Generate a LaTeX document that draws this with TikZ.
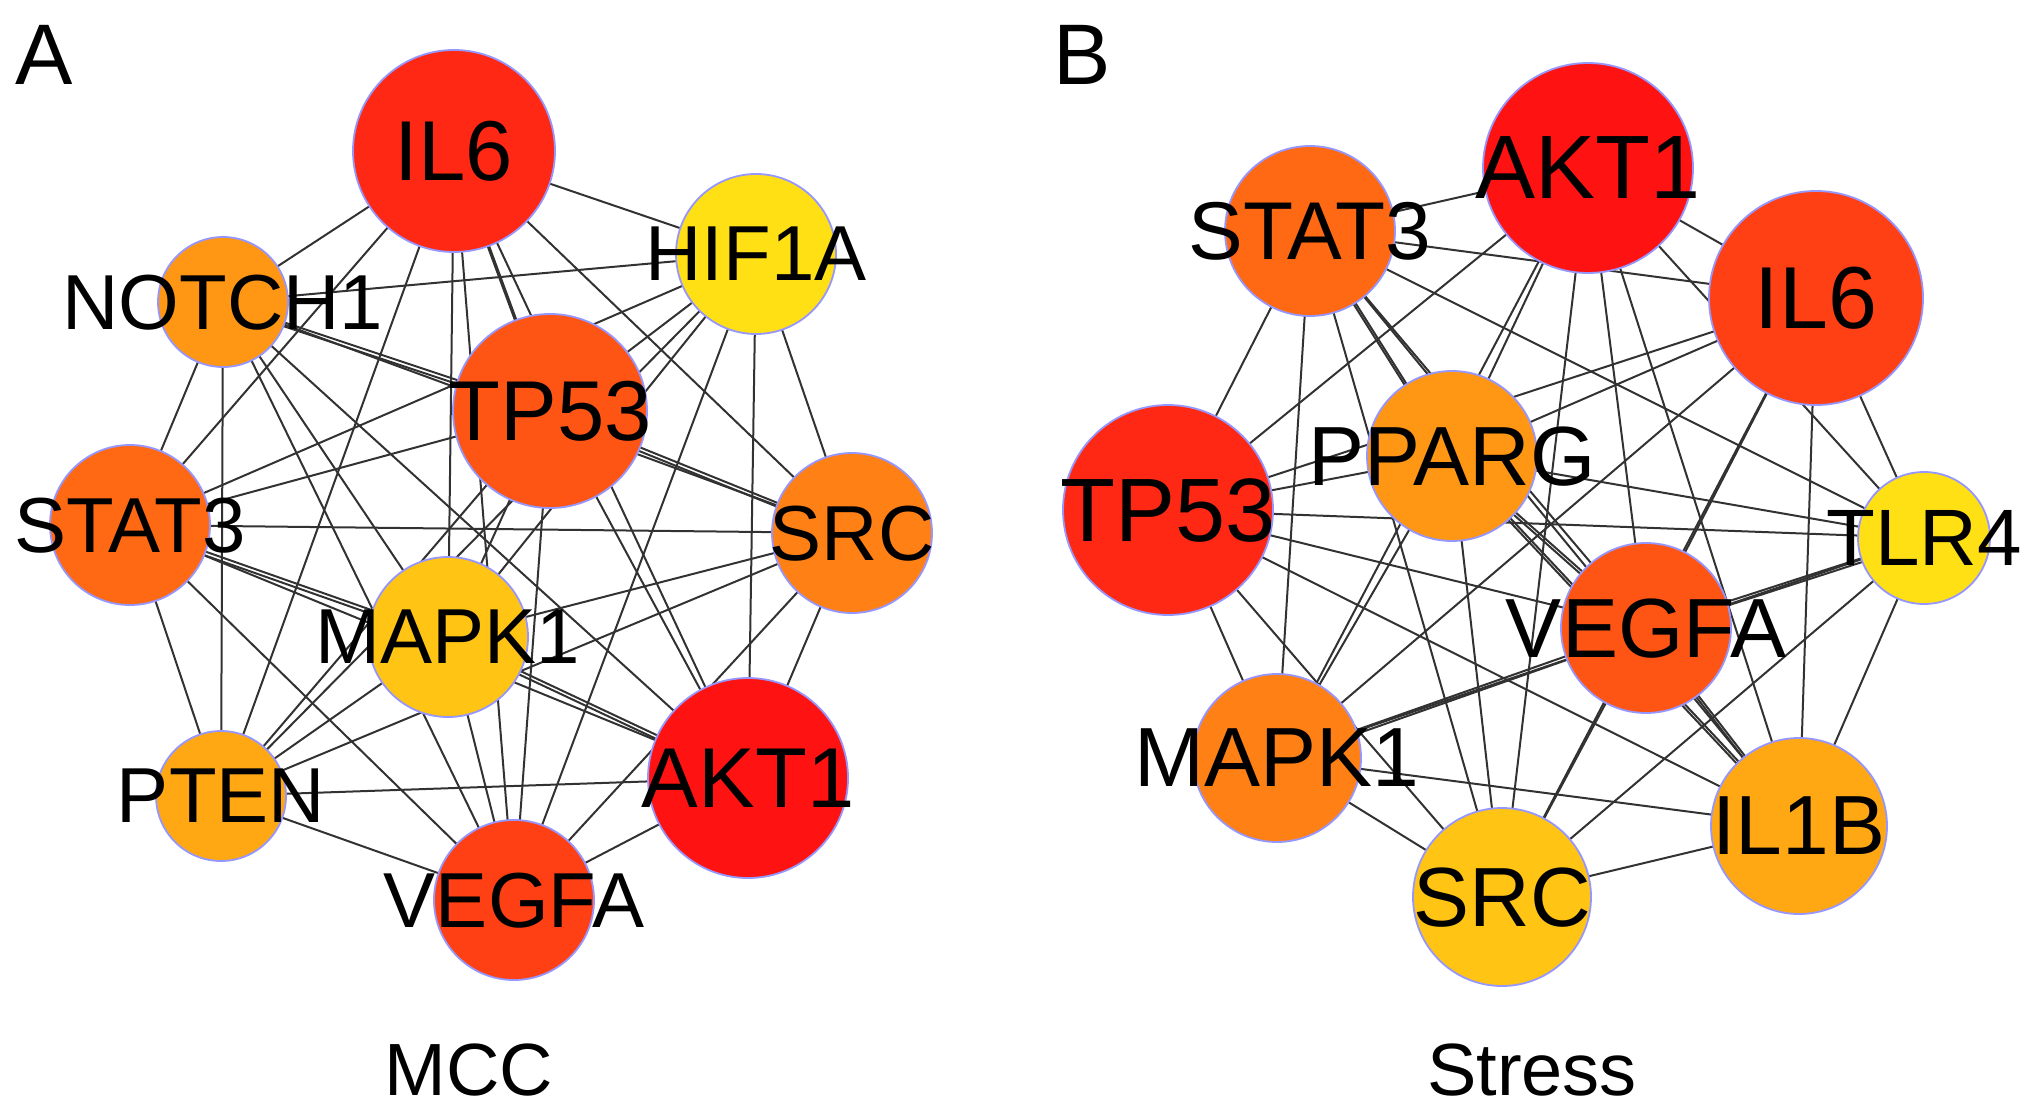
\documentclass[tikz,border=0pt]{standalone}
\usepackage{fontspec}
\setmainfont{Liberation Sans}
\usetikzlibrary{backgrounds}
\definecolor{cA}{RGB}{255,18,18}
\definecolor{cB}{RGB}{255,40,20}
\definecolor{cC}{RGB}{255,64,20}
\definecolor{cD}{RGB}{255,85,20}
\definecolor{cE}{RGB}{255,105,20}
\definecolor{cF}{RGB}{255,128,20}
\definecolor{cG}{RGB}{255,150,20}
\definecolor{cH}{RGB}{255,168,20}
\definecolor{cI}{RGB}{255,196,20}
\definecolor{cJ}{RGB}{255,224,20}
\definecolor{rim}{RGB}{150,150,255}
\definecolor{edgec}{RGB}{50,50,50}
\tikzset{
  gene/.style args={#1/#2/#3}{circle, draw=rim, line width=1.8pt, fill=#1,
     minimum size=#2pt, inner sep=0pt,
     label={[font=\fontsize{#3}{#3}\selectfont, text depth=0pt, inner sep=0pt]center:\genelabel}},
  edge/.style={draw=edgec, line width=2pt},
  ttl/.style={font=\fontsize{74}{74}\selectfont, inner sep=0pt},
  panel/.style={font=\fontsize{86}{86}\selectfont, inner sep=0pt}
}
\newcommand{\genelabel}{}
\newcommand{\gnode}[6]{\def\genelabel{#6}\node[gene={#3/#4/#5}] (#1) at #2 {};}
\begin{document}
\begin{tikzpicture}[x=1pt,y=-1pt]
\useasboundingbox (0,0) rectangle (2031,1107);
% Panel A
\gnode{aIL6}{(454,151)}{cB}{202}{85}{IL6}
\gnode{aHIF}{(756,254)}{cJ}{160}{78}{HIF1A}
\gnode{aNOT}{(223,302)}{cG}{130}{78}{NOTCH1}
\gnode{aTP}{(550,411)}{cD}{194}{85}{TP53}
\gnode{aST}{(130,525)}{cE}{160}{78}{STAT3}
\gnode{aSRC}{(852,533)}{cF}{160}{78}{SRC}
\gnode{aMAP}{(448,637)}{cI}{160}{78}{MAPK1}
\gnode{aPT}{(221,796)}{cH}{130}{78}{PTEN}
\gnode{aAKT}{(748,778)}{cA}{200}{85}{AKT1}
\gnode{aVEG}{(514,900)}{cC}{160}{78}{VEGFA}
% Panel B
\gnode{bAKT}{(1588,168)}{cA}{210}{90}{AKT1}
\gnode{bST}{(1310,231)}{cE}{170}{82}{STAT3}
\gnode{bIL6}{(1816,298)}{cC}{214}{88}{IL6}
\gnode{bPP}{(1452,456)}{cG}{170}{84}{PPARG}
\gnode{bTP}{(1168,510)}{cB}{210}{90}{TP53}
\gnode{bTLR}{(1924,538)}{cJ}{132}{80}{TLR4}
\gnode{bVEG}{(1646,628)}{cD}{170}{84}{VEGFA}
\gnode{bMAP}{(1277,758)}{cF}{168}{84}{MAPK1}
\gnode{bIL1}{(1799,826)}{cH}{176}{84}{IL1B}
\gnode{bSRC}{(1502,897)}{cI}{178}{84}{SRC}
% titles
\node[panel] (la) at (44,55) {A};
\node[panel] (lb) at (1082,55) {B};
\node[ttl] (mcc) at (469,1070) {MCC};
\node[ttl] (str) at (1532,1070) {Stress};
\begin{pgfonlayer}{background}
\foreach \i [count=\n] in {aIL6,aHIF,aNOT,aTP,aST,aSRC,aMAP,aPT,aAKT,aVEG}{
  \foreach \j [count=\m] in {aIL6,aHIF,aNOT,aTP,aST,aSRC,aMAP,aPT,aAKT,aVEG}{
    \ifnum\n<\m \draw[edge] (\i.center) -- (\j.center); \fi
  }
}
\foreach \i [count=\n] in {bAKT,bST,bIL6,bPP,bTP,bTLR,bVEG,bMAP,bIL1,bSRC}{
  \foreach \j [count=\m] in {bAKT,bST,bIL6,bPP,bTP,bTLR,bVEG,bMAP,bIL1,bSRC}{
    \ifnum\n<\m \draw[edge] (\i.center) -- (\j.center); \fi
  }
}
\begin{scope}[transform canvas={shift={(0pt,-4pt)}}]
\foreach \i/\j in {aST/aMAP,aTP/aSRC,aMAP/aAKT,aNOT/aTP,aIL6/aTP,
                   bPP/bIL1,bPP/bVEG,bVEG/bIL1,bVEG/bTLR,bMAP/bVEG,bST/bPP}{
  \draw[edge] (\i.center) -- (\j.center);
}
\end{scope}
\end{pgfonlayer}
\end{tikzpicture}
\end{document}
